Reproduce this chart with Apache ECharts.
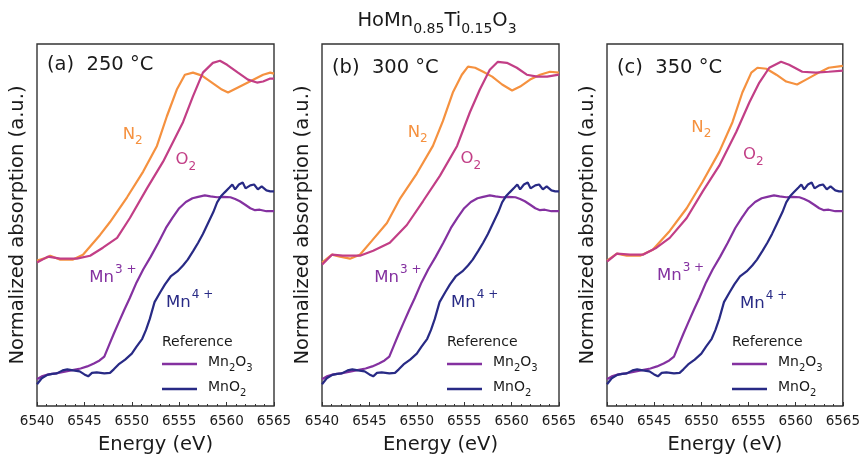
<!DOCTYPE html>
<html>
<head>
<meta charset="utf-8">
<script src="https://cdn.jsdelivr.net/npm/echarts@6/dist/echarts.min.js"></script>
<style>
  html, body { margin: 0; padding: 0; background: #fff; }
  #chart { width: 863px; height: 460px; }
</style>
</head>
<body>
<div id="chart"></div>
<script>
// Mn K-edge XANES of HoMn0.85Ti0.15O3 measured under N2 and O2 at three temperatures,
// compared with Mn2O3 (Mn3+) and MnO2 (Mn4+) reference spectra.

// ---- Reference spectra (same in every panel) ----
const mn2o3Energy = [6540.0,6540.5,6541.2,6542.0,6542.8,6543.6,6544.6,6545.3,6546.0,6546.6,6547.1,6547.6,6548.1,6548.6,6549.2,6549.8,6550.5,6551.2,6552.0,6552.8,6553.6,6554.3,6555.0,6555.7,6556.4,6557.0,6557.7,6558.3,6559.0,6559.7,6560.4,6560.9,6561.4,6562.0,6562.5,6563.0,6563.5,6564.2,6565.0];
const mn2o3Abs = [0.18,0.20,0.213,0.22,0.23,0.24,0.253,0.267,0.287,0.307,0.333,0.41,0.487,0.56,0.647,0.73,0.833,0.92,1.007,1.10,1.20,1.27,1.333,1.375,1.40,1.41,1.42,1.413,1.407,1.41,1.407,1.395,1.38,1.355,1.333,1.32,1.323,1.313,1.313];

const mno2Energy = [6540.0,6540.5,6541.1,6541.6,6542.1,6542.7,6543.2,6543.8,6544.5,6545.0,6545.4,6545.8,6546.3,6547.1,6547.7,6548.1,6548.6,6549.3,6550.0,6550.5,6551.1,6551.5,6551.9,6552.4,6553.0,6553.5,6554.1,6554.8,6555.4,6555.9,6556.5,6557.0,6557.5,6558.0,6558.6,6559.0,6559.4,6559.8,6560.3,6560.6,6560.9,6561.3,6561.7,6562.0,6562.5,6562.9,6563.3,6563.7,6564.2,6564.6,6565.0];
const mno2Abs = [0.147,0.187,0.21,0.217,0.22,0.24,0.247,0.24,0.233,0.213,0.20,0.223,0.227,0.22,0.223,0.247,0.28,0.313,0.353,0.40,0.453,0.513,0.587,0.70,0.767,0.82,0.873,0.907,0.947,0.987,1.047,1.10,1.16,1.227,1.307,1.373,1.413,1.44,1.473,1.493,1.46,1.493,1.507,1.467,1.487,1.493,1.46,1.48,1.453,1.447,1.447];

// ---- 250 °C ----
const n2Energy250 = [6540.0,6541.05,6541.4,6542.4,6543.8,6544.85,6546.65,6547.7,6549.5,6551.2,6552.65,6553.7,6554.75,6555.6,6556.45,6557.4,6558.45,6559.5,6560.15,6561.2,6562.45,6563.85,6564.6,6565.0];
const n2Abs250 = [0.98,1.0,1.013,0.987,0.987,1.02,1.153,1.24,1.407,1.58,1.753,1.953,2.133,2.233,2.247,2.227,2.18,2.133,2.113,2.147,2.187,2.233,2.247,2.24];
const o2Energy250 = [6540.0,6541.15,6542.45,6544.2,6545.6,6546.95,6548.45,6549.8,6551.6,6553.3,6554.35,6555.4,6556.45,6557.5,6558.55,6559.3,6560.05,6561.2,6562.25,6563.2,6563.85,6564.6,6565.0];
const o2Abs250 = [0.967,1.007,0.993,0.993,1.013,1.067,1.133,1.267,1.467,1.647,1.78,1.913,2.087,2.247,2.313,2.327,2.3,2.247,2.2,2.18,2.187,2.207,2.207];

// ---- 300 °C ----
const n2Energy300 = [6540.0,6541.05,6541.9,6542.95,6544.0,6545.25,6546.85,6548.25,6550.0,6551.7,6552.75,6553.8,6554.75,6555.4,6556.15,6557.0,6557.95,6559.0,6560.05,6560.9,6561.95,6563.0,6564.05,6565.0];
const n2Abs300 = [0.967,1.02,1.007,0.993,1.02,1.113,1.233,1.4,1.567,1.753,1.92,2.113,2.233,2.287,2.28,2.253,2.22,2.167,2.127,2.153,2.2,2.233,2.253,2.247];
const o2Energy300 = [6540.0,6541.05,6542.2,6544.0,6545.4,6547.15,6548.95,6550.65,6552.45,6554.25,6555.6,6556.65,6557.7,6558.55,6559.5,6560.55,6561.6,6562.7,6563.75,6565.0];
const o2Abs300 = [0.953,1.02,1.013,1.013,1.047,1.1,1.22,1.38,1.553,1.753,1.98,2.133,2.267,2.32,2.313,2.28,2.233,2.22,2.22,2.233];

// ---- 350 °C ----
const n2Energy350 = [6540.0,6541.05,6542.1,6543.5,6544.85,6546.65,6548.45,6550.15,6551.9,6553.3,6554.35,6555.3,6555.95,6556.9,6557.95,6559.0,6560.15,6561.1,6562.45,6563.5,6565.0];
const n2Abs350 = [0.98,1.027,1.013,1.013,1.053,1.18,1.333,1.513,1.713,1.913,2.113,2.247,2.28,2.273,2.233,2.187,2.167,2.2,2.247,2.28,2.293];
const o2Energy350 = [6540.0,6541.05,6542.45,6543.8,6545.25,6546.65,6548.45,6550.15,6551.9,6553.7,6555.1,6556.15,6557.2,6558.45,6559.3,6560.7,6562.15,6563.5,6565.0];
const o2Abs350 = [0.973,1.027,1.02,1.02,1.067,1.133,1.267,1.447,1.62,1.847,2.047,2.18,2.28,2.32,2.3,2.253,2.247,2.253,2.26];

const panelLetters = ['(a)', '(b)', '(c)'];
const temperatures = ['250 °C', '300 °C', '350 °C'];
const energyMin = 6540, energyMax = 6565, energyStep = 5;

const samples = [
  { n2: [n2Energy250, n2Abs250], o2: [o2Energy250, o2Abs250] },
  { n2: [n2Energy300, n2Abs300], o2: [o2Energy300, o2Abs300] },
  { n2: [n2Energy350, n2Abs350], o2: [o2Energy350, o2Abs350] }
];

// Annotation anchors in data coordinates [energy, absorption], one set per panel
const annoN2 = [[6550.1, 1.82], [6550.1, 1.833], [6550.0, 1.867]];
const annoO2 = [[6555.7, 1.647], [6555.7, 1.653], [6555.5, 1.68]];
const annoMn3 = [[6548.0, 0.887], [6548.0, 0.887], [6547.8, 0.9]];
const annoMn4 = [[6556.1, 0.72], [6556.1, 0.72], [6556.6, 0.713]];
const annoTitle = [[6541.05, 2.3], [6541.05, 2.28], [6541.05, 2.28]];

const COLORS = { n2: '#f5913f', o2: '#c23e86', mn2o3: '#8431a0', mno2: '#282a85' };
const FONT = 'DejaVu Sans';
const FRAME = '#333';
const INK = '#1a1a1a';

const zip = (xs, ys) => xs.map((x, i) => [x, ys[i]]);

const gridLefts = [37, 322, 607];
const grids = [], xAxes = [], yAxes = [], series = [], legends = [], graphics = [];

const subRich = (size, color) => ({
  g: { width: 6 },
  b: { fontSize: size, color, fontFamily: FONT, fontWeight: 'normal', lineHeight: size + 4, verticalAlign: 'top', padding: [0, 0, 0, 0] },
  s: { fontSize: Math.round(size * 0.7), color, fontFamily: FONT, fontWeight: 'normal', lineHeight: Math.round(size * 0.7) + 3, verticalAlign: 'top', padding: [Math.round(size * 0.55), 0, 0, 0] }
});
const supRich = (size, color) => ({
  b: { fontSize: size, color, fontFamily: FONT, lineHeight: size + 4, verticalAlign: 'top', padding: [Math.round(size * 0.3), 0, 0, 0] },
  p: { fontSize: Math.round(size * 0.7), color, fontFamily: FONT, lineHeight: Math.round(size * 0.7) + 3, verticalAlign: 'top', padding: [0, 0, 0, 1] }
});

function annotation(i, pos, text, rich, align) {
  return {
    type: 'scatter', xAxisIndex: i, yAxisIndex: i, silent: true, symbolSize: 0,
    itemStyle: { opacity: 1 },
    data: [pos], z: 10,
    label: {
      show: true, position: 'inside', align: align || 'center', verticalAlign: 'middle',
      opacity: 1, formatter: text, rich
    }
  };
}

for (let i = 0; i < 3; i++) {
  grids.push({ left: gridLefts[i], top: 44, width: 237, height: 366, show: true,
    borderColor: FRAME, borderWidth: 1.4, backgroundColor: 'transparent' });
  xAxes.push({
    gridIndex: i, type: 'value', min: energyMin, max: energyMax, interval: energyStep,
    name: 'Energy (eV)', nameLocation: 'middle', nameGap: 29,
    nameTextStyle: { fontFamily: FONT, fontSize: 19.5, color: INK },
    axisLine: { show: false },
    axisTick: { show: true, inside: true, length: 4, lineStyle: { color: FRAME, width: 1 } },
    minorTick: { show: true, splitNumber: 5, length: 2, lineStyle: { color: FRAME, width: 1 } },
    axisLabel: { fontFamily: FONT, fontSize: 13.5, color: INK, margin: 8, showMinLabel: true, showMaxLabel: true,
      formatter: (v) => String(v) },
    splitLine: { show: false }, minorSplitLine: { show: false }
  });
  yAxes.push({
    gridIndex: i, type: 'value', min: 0, max: 2.44,
    name: 'Normalized absorption (a.u.)', nameLocation: 'middle', nameGap: 9, nameRotate: 90,
    nameTextStyle: { fontFamily: FONT, fontSize: 19.5, color: INK },
    axisLine: { show: false }, axisTick: { show: false }, axisLabel: { show: false },
    splitLine: { show: false }
  });

  const lineBase = { type: 'line', xAxisIndex: i, yAxisIndex: i, symbol: 'none', silent: true, animation: false };
  series.push(Object.assign({}, lineBase, { name: 'N2', data: zip(...samples[i].n2),
    lineStyle: { color: COLORS.n2, width: 2.2 }, itemStyle: { color: COLORS.n2 } }));
  series.push(Object.assign({}, lineBase, { name: 'O2', data: zip(...samples[i].o2),
    lineStyle: { color: COLORS.o2, width: 2.2 }, itemStyle: { color: COLORS.o2 } }));
  series.push(Object.assign({}, lineBase, { name: 'Mn2O3', data: zip(mn2o3Energy, mn2o3Abs),
    lineStyle: { color: COLORS.mn2o3, width: 2.2 }, itemStyle: { color: COLORS.mn2o3 } }));
  series.push(Object.assign({}, lineBase, { name: 'MnO2', data: zip(mno2Energy, mno2Abs),
    lineStyle: { color: COLORS.mno2, width: 2.2 }, itemStyle: { color: COLORS.mno2 } }));

  series.push(annotation(i, annoN2[i], '{b|N}{s|2}', subRich(16.5, COLORS.n2)));
  series.push(annotation(i, annoO2[i], '{b|O}{s|2}', subRich(16.5, COLORS.o2)));
  series.push(annotation(i, annoMn3[i], '{b|Mn}{p|3 +}', supRich(16.5, COLORS.mn2o3)));
  series.push(annotation(i, annoMn4[i], '{b|Mn}{p|4 +}', supRich(16.5, COLORS.mno2)));
  series.push(annotation(i, annoTitle[i], '{t|' + panelLetters[i] + '  ' + temperatures[i] + '}',
    { t: { fontSize: 19.5, color: INK, fontFamily: FONT } }, 'left'));

  legends.push({
    left: gridLefts[i] + 125, top: 355, orient: 'vertical', itemGap: 7, padding: 0,
    itemWidth: 35, itemHeight: 14, selectedMode: false,
    icon: 'path://M0,6 L35,6 L35,8.4 L0,8.4 Z',
    data: [
      { name: 'Mn2O3', itemStyle: { color: COLORS.mn2o3 } },
      { name: 'MnO2', itemStyle: { color: COLORS.mno2 } }
    ],
    formatter: (name) => name === 'Mn2O3' ? '{g|}{b|Mn}{s|2}{b|O}{s|3}' : '{g|}{b|MnO}{s|2}',
    textStyle: { color: INK, fontFamily: FONT, fontSize: 14, rich: subRich(14, INK) }
  });
  graphics.push({
    type: 'text', left: gridLefts[i] + 125, top: 335,
    style: { text: 'Reference', fontFamily: FONT, fontSize: 14, fill: INK }
  });
}

const chart = echarts.init(document.getElementById('chart'), null, { renderer: 'canvas' });
chart.setOption({
  animation: false,
  backgroundColor: '#fff',
  title: {
    left: 432, textAlign: 'center', top: 6,
    text: '{b|HoMn}{s|0.85}{b|Ti}{s|0.15}{b|O}{s|3}',
    textStyle: { fontWeight: 'normal', rich: subRich(19.5, INK) }
  },
  grid: grids, xAxis: xAxes, yAxis: yAxes, series, legend: legends, graphic: graphics
});
</script>
</body>
</html>
